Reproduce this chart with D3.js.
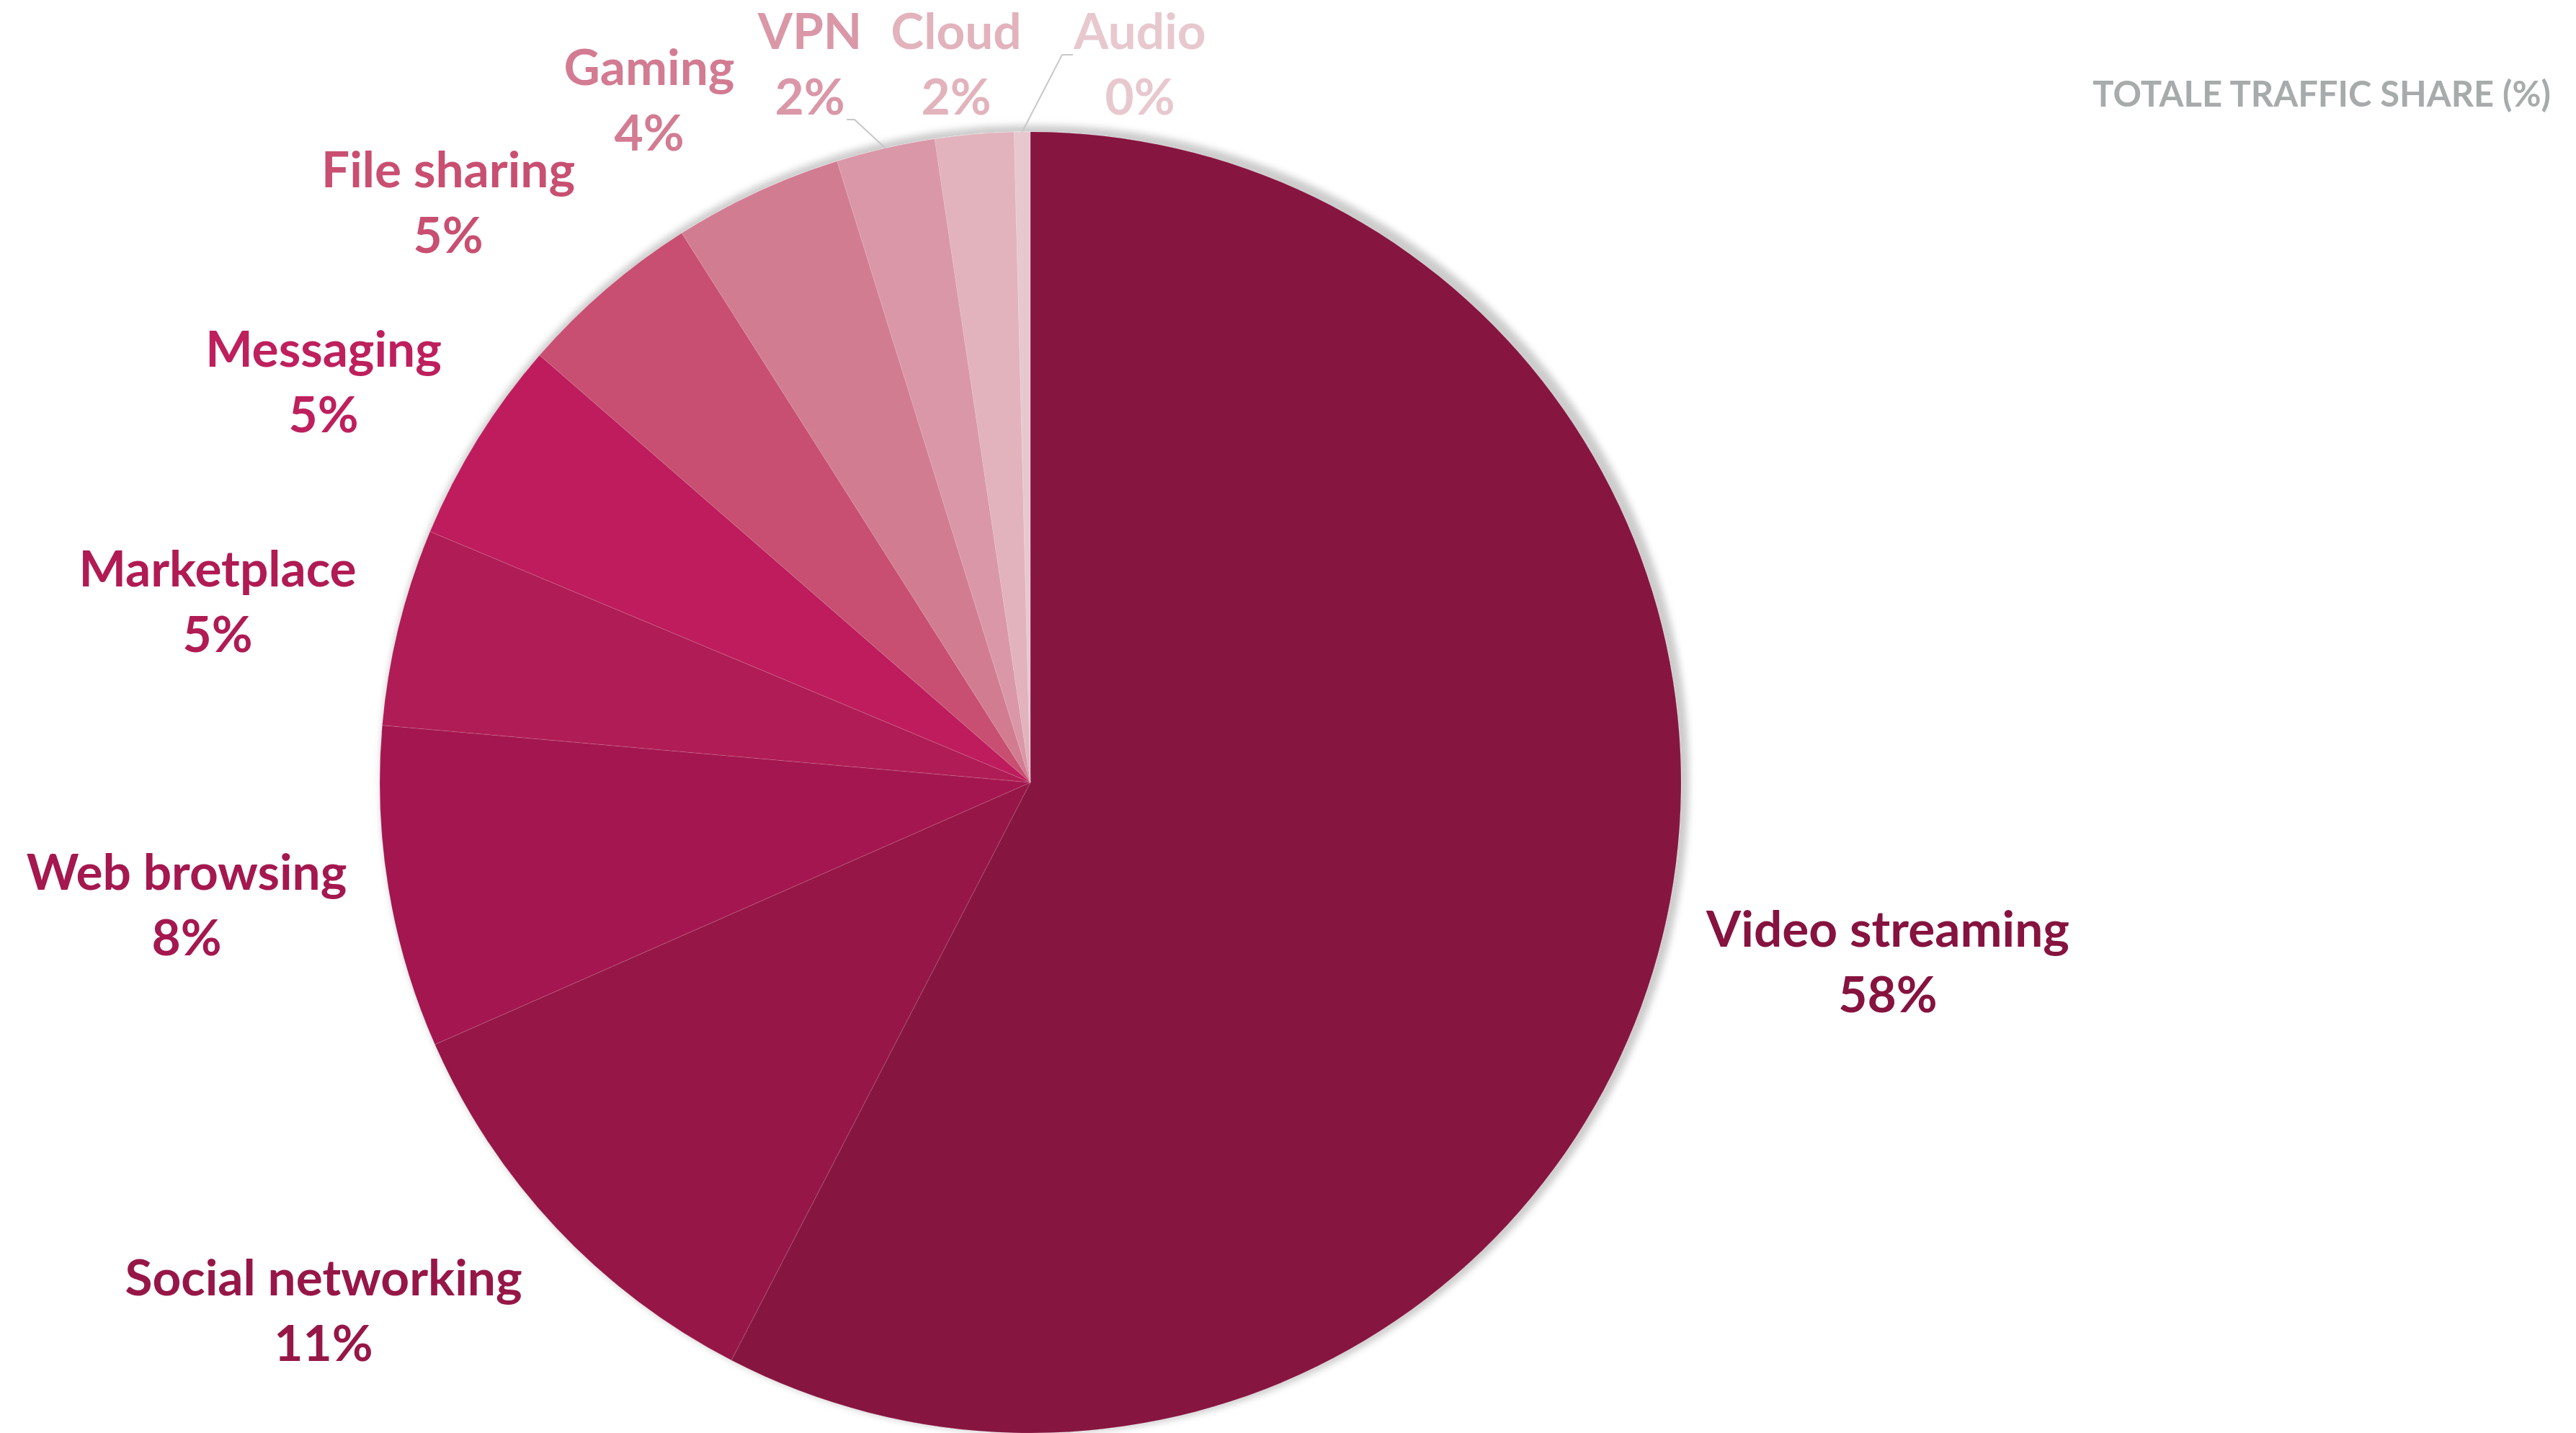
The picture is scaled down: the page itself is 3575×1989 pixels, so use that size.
<!DOCTYPE html>
<html>
<head>
<meta charset="utf-8">
<script src="https://cdn.jsdelivr.net/npm/d3@7"></script>
<style>
  html, body { margin: 0; padding: 0; background: #fff; }
  svg { display: block; }
  text { font-family: Lato, "Open Sans", sans-serif; font-weight: 700; }
</style>
</head>
<body>
<svg id="chart" width="3575" height="1989"></svg>
<script>
// Traffic categories, in clockwise order from 12 o'clock
const categories = ["Video streaming", "Social networking", "Web browsing", "Marketplace", "Messaging",
                    "File sharing", "Gaming", "VPN", "Cloud", "Audio"];
// Share of total traffic (%)
const shares = [57.6, 10.8, 8.0, 4.9, 5.1, 4.6, 4.2, 2.45, 1.95, 0.4];
const sliceColors = ["#86133F", "#961747", "#A4184F", "#B01B54", "#BE1F5D",
                     "#C84F71", "#D27B92", "#DA97A8", "#E2B3BD", "#E8C8CF"];
const chartTitle = "TOTALE TRAFFIC SHARE (%)";

// Label placement (text-anchor middle, baseline of the name line)
const labelLayout = [
  { x: 2620, y: 1314 },
  { x: 449,  y: 1798 },
  { x: 259,  y: 1235 },
  { x: 302,  y: 814 },
  { x: 449,  y: 509 },
  { x: 622,  y: 260 },
  { x: 901,  y: 118 },
  { x: 1124, y: 68, leader: [[1175, 166], [1186, 166]] },
  { x: 1327, y: 68 },
  { x: 1582, y: 68, leader: [[1489, 76], [1474, 76]] }
];

const W = 3575, H = 1989;
const cx = 1430, cy = 1086, R = 903;
const lineGap = 91;

const svg = d3.select("#chart");

// soft grey shadow behind the pie, shifted up and to the right
const defs = svg.append("defs");
const f = defs.append("filter").attr("id", "pieShadow")
  .attr("x", "-5%").attr("y", "-5%").attr("width", "110%").attr("height", "110%");
f.append("feMorphology").attr("in", "SourceAlpha").attr("operator", "dilate").attr("radius", 5).attr("result", "grow");
f.append("feGaussianBlur").attr("in", "grow").attr("stdDeviation", 5).attr("result", "blur");
f.append("feOffset").attr("in", "blur").attr("dx", 6).attr("dy", -4).attr("result", "off");
f.append("feFlood").attr("flood-color", "#000").attr("flood-opacity", 0.2).attr("result", "col");
f.append("feComposite").attr("in", "col").attr("in2", "off").attr("operator", "in").attr("result", "shadow");
const m = f.append("feMerge");
m.append("feMergeNode").attr("in", "shadow");
m.append("feMergeNode").attr("in", "SourceGraphic");

const data = categories.map((c, i) => ({ name: c, value: shares[i], color: sliceColors[i], layout: labelLayout[i] }));
const total = d3.sum(shares);

const pie = d3.pie().sort(null).value(d => d.value).startAngle(0).endAngle(2 * Math.PI);
const arcs = pie(data);
const arc = d3.arc().innerRadius(0).outerRadius(R);
const edgeArc = d3.arc().innerRadius(R).outerRadius(R);

const g = svg.append("g").attr("transform", `translate(${cx},${cy})`);

g.append("g").attr("filter", "url(#pieShadow)")
  .selectAll("path").data(arcs).join("path")
  .attr("d", arc)
  .attr("fill", d => d.data.color)
  .attr("stroke", "#fff")
  .attr("stroke-opacity", 0.12)
  .attr("stroke-width", 1)
  .attr("stroke-linejoin", "round");

// font size fitted so the line widths match the design
const probe = svg.append("text").attr("font-size", 100).text(categories[0]);
const labelSize = 100 * 504 / probe.node().getComputedTextLength();
probe.text(chartTitle);
const titleSize = 100 * 636 / probe.node().getComputedTextLength();
probe.remove();

// leader lines for the thin slices
arcs.forEach(d => {
  const L = d.data.layout;
  if (!L.leader) return;
  const p = edgeArc.centroid(d);
  const pts = [L.leader[0], L.leader[1], [p[0] + cx, p[1] + cy]];
  svg.append("path")
    .attr("d", d3.line()(pts))
    .attr("fill", "none")
    .attr("stroke", "#C8C8C8")
    .attr("stroke-width", 2);
});

// category name + percentage
const labels = svg.append("g").selectAll("text").data(arcs).join("text")
  .attr("text-anchor", "middle")
  .attr("font-size", labelSize)
  .attr("fill", d => d.data.color);
labels.append("tspan")
  .attr("x", d => d.data.layout.x)
  .attr("y", d => d.data.layout.y)
  .text(d => d.data.name);
labels.append("tspan")
  .attr("x", d => d.data.layout.x)
  .attr("y", d => d.data.layout.y + lineGap)
  .text(d => Math.round(d.data.value / total * 100) + "%");

svg.append("text")
  .attr("x", 3540).attr("y", 148)
  .attr("text-anchor", "end")
  .attr("font-size", titleSize)
  .attr("fill", "#A8ABAC")
  .text(chartTitle);
</script>
</body>
</html>
